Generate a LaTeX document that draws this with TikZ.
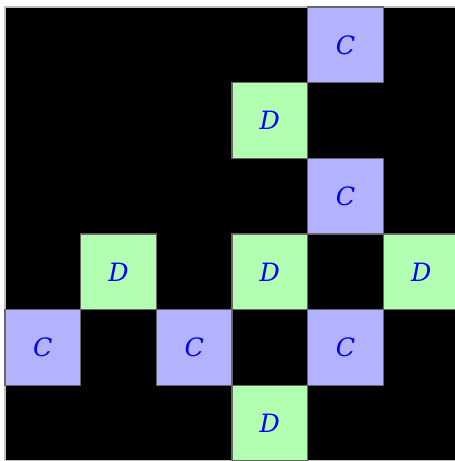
\documentclass[tikz,border=0pt]{standalone}
\usepackage{fontspec}
\setmainfont{DejaVu Serif}
\usepackage{tikz}
\usepackage{xcolor}
\usetikzlibrary{arrows.meta,positioning}

\begin{document}
\begin{tikzpicture}[cell/.style={shape=rectangle,minimum size=1cm,inner sep=0pt,draw=black!60,line width=0.5pt,text=blue,font=\fontsize{9.5}{11}\selectfont\itshape},
cellC/.style={cell,fill=blue!30},cellD/.style={cell,fill=green!30}]
\useasboundingbox(-0.066,0.092)rectangle(5.945,-6);
\draw[fill=black,draw=black!25](0,0)rectangle(6,-6);
\foreach \n/\x/\y in {c1/4/0,c2/4/2,c3/0/4,c4/2/4,c5/4/4}
\node[cellC](\n)at(\x+0.5,-\y-0.5){C};
\foreach \n/\x/\y in {d1/3/1,d2/1/3,d3/3/3,d4/5/3,d5/3/5}
\node[cellD](\n)at(\x+0.5,-\y-0.5){D};
\end{tikzpicture}
\end{document}
